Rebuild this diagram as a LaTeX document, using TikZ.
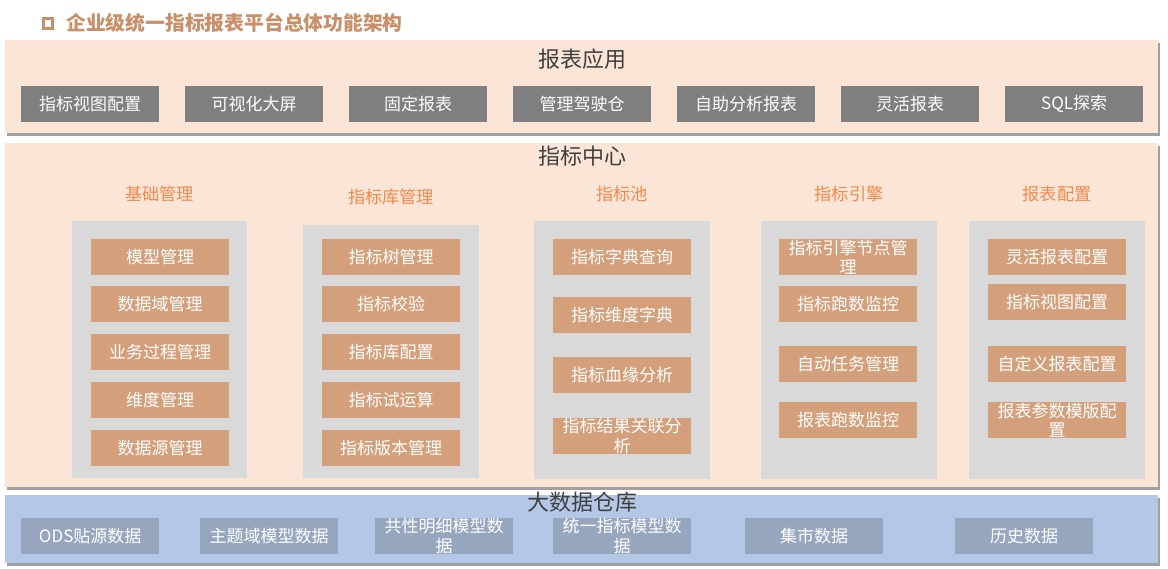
\documentclass[tikz,border=0pt]{standalone}
\usepackage{fontspec}
\setmainfont{Noto Sans CJK SC}
\definecolor{peach}{HTML}{FBE5D6}
\definecolor{shadowgray}{HTML}{A0A0A0}
\definecolor{topgray}{HTML}{7F7F7F}
\definecolor{colgray}{HTML}{D9D9D9}
\definecolor{obox}{HTML}{D3A07B}
\definecolor{headorange}{HTML}{F4894D}
\definecolor{bluepanel}{HTML}{B4C7E7}
\definecolor{bluebox}{HTML}{97A6BF}
\definecolor{titlecol}{HTML}{C98F69}
\definecolor{labelgray}{HTML}{404040}
\tikzset{
  panelbox/.style={fill=peach, draw=none, anchor=north west, inner sep=0pt},
  bluepanelbox/.style={fill=bluepanel, draw=none, anchor=north west, inner sep=0pt},
  panelshadow/.style={fill=shadowgray, draw=none},
  paneltitle/.style={text=labelgray, font=\fontsize{22}{25}\selectfont, inner sep=0pt},
  colhead/.style={text=headorange, font=\fontsize{17.2}{20}\selectfont, inner sep=0pt},
  colbox/.style={fill=colgray, draw=none, anchor=north west, inner sep=0pt},
  cell/.style={anchor=north west, minimum width=138, minimum height=36, inner sep=0pt,
    text=white, align=center, font=\fontsize{17}{19.5}\selectfont},
  topbtn/.style={cell, fill=topgray},
  obtn/.style={cell, fill=obox},
  bbtn/.style={cell, fill=bluebox},
}
\begin{document}
\begin{tikzpicture}[x=1pt,y=-1pt]
\useasboundingbox (0,0) rectangle (1168,568);
\fill[white] (0,0) rectangle (1168,568);

% title
\draw[titlecol, line width=2.8pt] (43.5,18.5) rectangle (52.5,28.5);
\node[anchor=west, inner sep=0pt, text=titlecol, font=\fontsize{19.8}{22}\bfseries\selectfont] (title) at (66,23) {企业级统一指标报表平台总体功能架构};

% panels with shadows
\fill[panelshadow] (7,43) rectangle (1160,136);
\node[panelbox, minimum width=1153, minimum height=93] (pTop) at (5,40) {};
\fill[panelshadow] (7,146) rectangle (1160,490);
\node[panelbox, minimum width=1153, minimum height=344] (pMid) at (5,143) {};
\fill[panelshadow] (7,498) rectangle (1160,566);
\node[bluepanelbox, minimum width=1153, minimum height=68] (pBot) at (5,495) {};

\node[paneltitle] (tTop) at (582,59) {报表应用};
\node[paneltitle] (tMid) at (582,156) {指标中心};
\node[paneltitle] (tBot) at (582,502) {大数据仓库};

% top buttons
\node[topbtn] (a1) at (21,86) {指标视图配置};
\node[topbtn] (a2) at (185,86) {可视化大屏};
\node[topbtn] (a3) at (349,86) {固定报表};
\node[topbtn] (a4) at (513,86) {管理驾驶仓};
\node[topbtn] (a5) at (677,86) {自助分析报表};
\node[topbtn] (a6) at (841,86) {灵活报表};
\node[topbtn] (a7) at (1005,86) {SQL探索};

% column backgrounds
\node[colbox, minimum width=175, minimum height=257] (c1) at (72,221) {};
\node[colbox, minimum width=176, minimum height=253] (c2) at (303,225) {};
\node[colbox, minimum width=176, minimum height=258] (c3) at (534,221) {};
\node[colbox, minimum width=176, minimum height=258] (c4) at (761,221) {};
\node[colbox, minimum width=176, minimum height=258] (c5) at (969,221) {};

% column headings
\node[colhead] (h1) at (159.5,194) {基础管理};
\node[colhead] (h2) at (391,197) {指标库管理};
\node[colhead] (h3) at (622,194) {指标池};
\node[colhead] (h4) at (849,194) {指标引擎};
\node[colhead] (h5) at (1057,194) {报表配置};

% column 1
\node[obtn] (b11) at (91,239) {模型管理};
\node[obtn] (b12) at (91,286) {数据域管理};
\node[obtn] (b13) at (91,334) {业务过程管理};
\node[obtn] (b14) at (91,382) {维度管理};
\node[obtn] (b15) at (91,430) {数据源管理};
% column 2
\node[obtn] (b21) at (322,239) {指标树管理};
\node[obtn] (b22) at (322,286) {指标校验};
\node[obtn] (b23) at (322,334) {指标库配置};
\node[obtn] (b24) at (322,382) {指标试运算};
\node[obtn] (b25) at (322,430) {指标版本管理};
% column 3
\node[obtn] (b31) at (553,239) {指标字典查询};
\node[obtn] (b32) at (553,297) {指标维度字典};
\node[obtn] (b33) at (553,357) {指标血缘分析};
\node[obtn] (b34) at (553,418) {指标结果关联分\\析};
% column 4
\node[obtn] (b41) at (779,239) {指标引擎节点管\\理};
\node[obtn] (b42) at (779,286) {指标跑数监控};
\node[obtn] (b43) at (779,346) {自动任务管理};
\node[obtn] (b44) at (779,402) {报表跑数监控};
% column 5
\node[obtn] (b51) at (988,239) {灵活报表配置};
\node[obtn] (b52) at (988,284) {指标视图配置};
\node[obtn] (b53) at (988,346) {自定义报表配置};
\node[obtn] (b54) at (988,402) {报表参数模版配\\置};

% bottom
\node[bbtn] (d1) at (21,518) {ODS贴源数据};
\node[bbtn] (d2) at (200,518) {主题域模型数据};
\node[bbtn] (d3) at (375,518) {共性明细模型数\\据};
\node[bbtn] (d4) at (553,518) {统一指标模型数\\据};
\node[bbtn] (d5) at (745,518) {集市数据};
\node[bbtn] (d6) at (955,518) {历史数据};
\end{tikzpicture}
\end{document}
